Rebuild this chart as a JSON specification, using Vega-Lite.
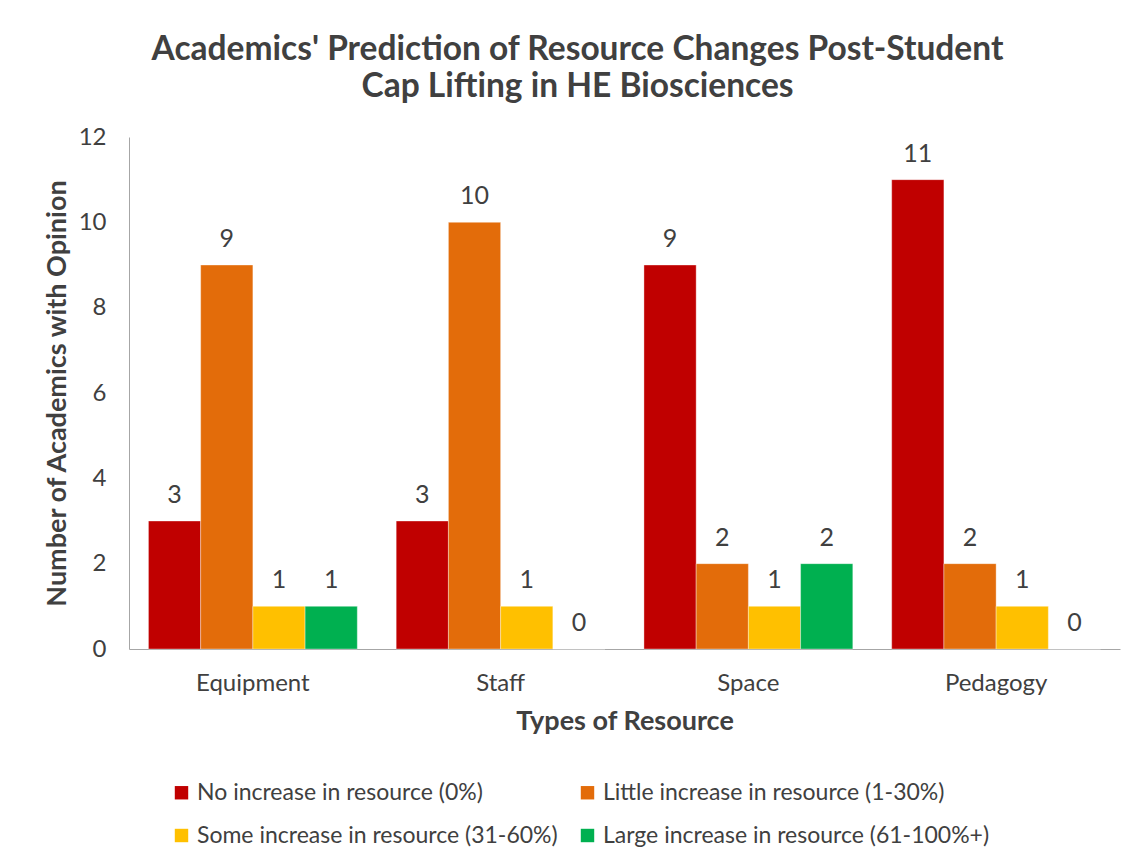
{
  "$schema": "https://vega.github.io/schema/vega-lite/v6.json",
  "autosize": {"type": "none"},
  "width": 991,
  "height": 512,
  "padding": {"left": 129, "top": 137, "right": 24, "bottom": 214},
  "background": "white",
  "config": {
    "font": "Lato",
    "view": {"stroke": null},
    "axis": {"labelColor": "#404040", "titleColor": "#404040", "domainColor": "#a6a6a6", "ticks": false, "grid": false},
    "legend": {"labelColor": "#404040"}
  },
  "title": {
    "text": ["Academics' Prediction of Resource Changes Post-Student", "Cap Lifting in HE Biosciences"],
    "fontSize": 33.5,
    "fontWeight": "bold",
    "color": "#404040",
    "lineHeight": 37,
    "anchor": "middle",
    "dx": -47,
    "offset": 21
  },
  "data": {
    "values": [
      {"resource": "Equipment", "category": "No increase in resource (0%)", "value": 3},
      {"resource": "Equipment", "category": "Little increase in resource (1-30%)", "value": 9},
      {"resource": "Equipment", "category": "Some increase in resource (31-60%)", "value": 1},
      {"resource": "Equipment", "category": "Large increase in resource (61-100%+)", "value": 1},
      {"resource": "Staff", "category": "No increase in resource (0%)", "value": 3},
      {"resource": "Staff", "category": "Little increase in resource (1-30%)", "value": 10},
      {"resource": "Staff", "category": "Some increase in resource (31-60%)", "value": 1},
      {"resource": "Staff", "category": "Large increase in resource (61-100%+)", "value": 0},
      {"resource": "Space", "category": "No increase in resource (0%)", "value": 9},
      {"resource": "Space", "category": "Little increase in resource (1-30%)", "value": 2},
      {"resource": "Space", "category": "Some increase in resource (31-60%)", "value": 1},
      {"resource": "Space", "category": "Large increase in resource (61-100%+)", "value": 2},
      {"resource": "Pedagogy", "category": "No increase in resource (0%)", "value": 11},
      {"resource": "Pedagogy", "category": "Little increase in resource (1-30%)", "value": 2},
      {"resource": "Pedagogy", "category": "Some increase in resource (31-60%)", "value": 1},
      {"resource": "Pedagogy", "category": "Large increase in resource (61-100%+)", "value": 0}
    ]
  },
  "encoding": {
    "x": {
      "field": "resource",
      "type": "nominal",
      "sort": ["Equipment", "Staff", "Space", "Pedagogy"],
      "scale": {"paddingInner": 0.157, "paddingOuter": 0.0785},
      "axis": {"title": "Types of Resource", "labelAngle": 0, "labelFontSize": 24, "labelPadding": 22, "titleFontSize": 27, "titleFontWeight": "bold", "titlePadding": 13}
    },
    "xOffset": {
      "field": "category",
      "type": "nominal",
      "sort": ["No increase in resource (0%)", "Little increase in resource (1-30%)", "Some increase in resource (31-60%)", "Large increase in resource (61-100%+)"],
      "scale": {"paddingInner": 0, "paddingOuter": 0}
    },
    "y": {
      "field": "value",
      "type": "quantitative",
      "scale": {"domain": [0, 12]},
      "axis": {"title": "Number of Academics with Opinion", "values": [0, 2, 4, 6, 8, 10, 12], "labelFontSize": 24, "labelPadding": 23, "titleFontSize": 27, "titleFontWeight": "bold", "titlePadding": 7}
    }
  },
  "layer": [
    {
      "mark": {"type": "bar", "stroke": "white", "strokeWidth": 0.6, "strokeOpacity": 0.6},
      "encoding": {
        "color": {
          "field": "category",
          "type": "nominal",
          "sort": ["No increase in resource (0%)", "Little increase in resource (1-30%)", "Some increase in resource (31-60%)", "Large increase in resource (61-100%+)"],
          "scale": {
            "domain": ["No increase in resource (0%)", "Little increase in resource (1-30%)", "Some increase in resource (31-60%)", "Large increase in resource (61-100%+)"],
            "range": ["#C00000", "#E36C0A", "#FFC000", "#00B050"]
          },
          "legend": {
            "title": null,
            "orient": "none",
            "legendX": 41,
            "legendY": 644,
            "direction": "horizontal",
            "columns": 2,
            "symbolType": "square",
            "symbolSize": 180,
            "symbolStrokeWidth": 0,
            "labelFontSize": 23,
            "labelOffset": 4,
            "columnPadding": 18,
            "rowPadding": 19,
            "labelLimit": 500
          }
        }
      }
    },
    {
      "mark": {"type": "text", "fontSize": 25, "color": "#404040", "baseline": "alphabetic", "dy": -18},
      "encoding": {"text": {"field": "value", "type": "quantitative"}}
    }
  ]
}
